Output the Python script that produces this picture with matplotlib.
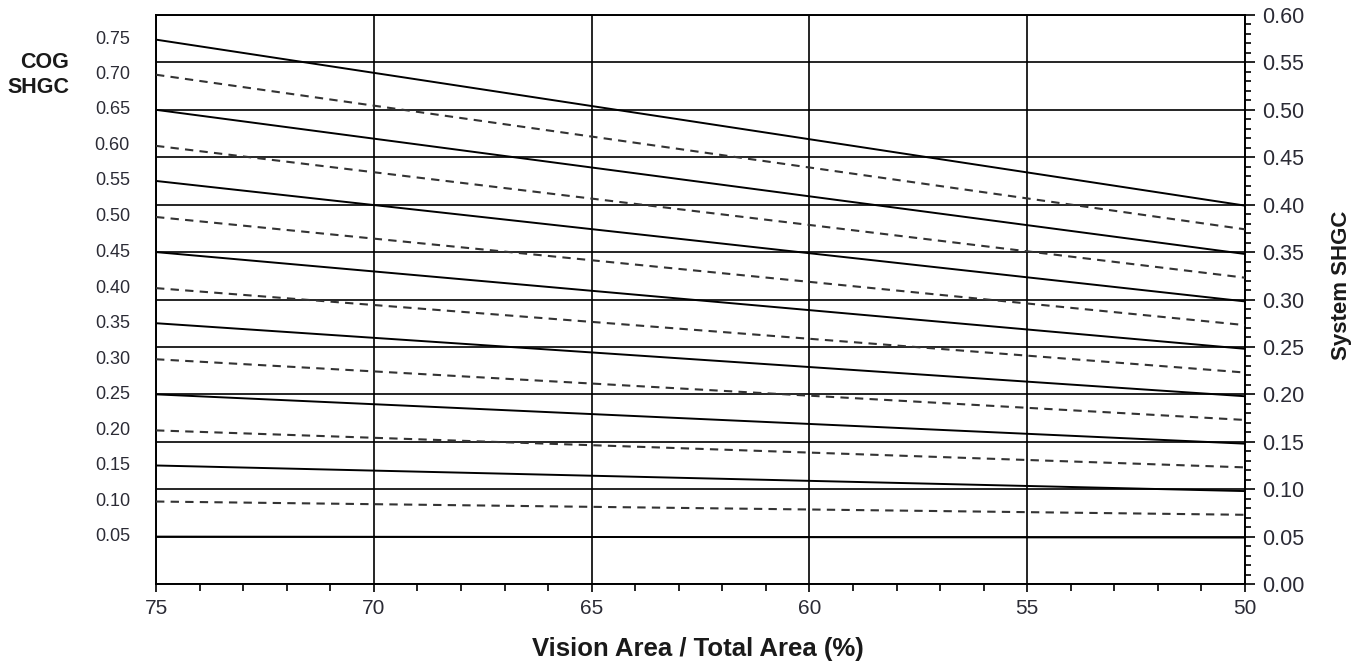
import matplotlib.pyplot as plt
from matplotlib.ticker import MultipleLocator

plt.rcParams['font.family'] = ['Liberation Sans', 'DejaVu Sans']

# --- data ---
cog_shgc = [0.75, 0.70, 0.65, 0.60, 0.55, 0.50, 0.45, 0.40,
            0.35, 0.30, 0.25, 0.20, 0.15, 0.10, 0.05]
# system SHGC at 75 % vision area (left end) and 50 % (right end)
sys_at_75 = [0.574, 0.537, 0.500, 0.462, 0.425, 0.387, 0.350, 0.312,
             0.275, 0.237, 0.200, 0.162, 0.125, 0.087, 0.050]
sys_at_50 = [0.399, 0.374, 0.348, 0.323, 0.298, 0.273, 0.248, 0.223,
             0.198, 0.173, 0.148, 0.123, 0.098, 0.073, 0.049]
vision_pct = [75, 50]
line_style = ['solid', 'dashed'] * 7 + ['solid']

fig = plt.figure(figsize=(13.64, 6.69), dpi=100)
ax = fig.add_axes([0.1144, 0.127, 0.7984, 0.8506])

for cog, y0, y1, ls in zip(cog_shgc, sys_at_75, sys_at_50, line_style):
    if ls == 'solid':
        ax.plot(vision_pct, [y0, y1], color='black', linewidth=1.4, zorder=3)
    else:
        ax.plot(vision_pct, [y0, y1], color='#333333', linewidth=1.5,
                dashes=(4, 3), zorder=3)
    # COG label on the left, level with the line start
    ax.text(-0.024, y0, f'{cog:.2f}', transform=ax.get_yaxis_transform(),
            ha='right', va='center', fontsize=13, color='#2b2b35')

ax.set_xlim(75, 50)
ax.set_ylim(0, 0.60)

ax.xaxis.set_major_locator(MultipleLocator(5))
ax.xaxis.set_minor_locator(MultipleLocator(1))
ax.yaxis.set_major_locator(MultipleLocator(0.05))
ax.yaxis.set_minor_locator(MultipleLocator(0.01))
ax.yaxis.tick_right()
ax.yaxis.set_major_formatter(plt.FormatStrFormatter('%.2f'))

ax.tick_params(axis='x', which='major', direction='out', length=6, width=1.2,
               labelsize=15, pad=5, colors='black', labelcolor='#2b2b35')
ax.tick_params(axis='x', which='minor', direction='out', length=5, width=1.2)
ax.tick_params(axis='y', which='major', direction='out', length=7, width=1.2,
               labelsize=15.5, pad=5, labelcolor='#2b2b35')
ax.tick_params(axis='y', which='minor', direction='out', length=4, width=1.2)

ax.grid(True, which='major', color='black', linewidth=1.2)
for sp in ax.spines.values():
    sp.set_linewidth(1.4)

ax.set_xlabel('Vision Area / Total Area (%)', fontsize=18.5, fontweight='bold',
              color='#1a1a1a', va='center')
ax.xaxis.set_label_coords(0.4972, -0.114)
ax.yaxis.set_label_position('right')
ax.set_ylabel('System SHGC', fontsize=16, fontweight='bold', color='#1a1a1a',
              va='center')
ax.yaxis.set_label_coords(1.089, 0.525)
fig.text(0.0506, 0.888, 'COG\nSHGC', ha='right', va='center', fontsize=15.5,
         fontweight='bold', color='#1a1a1a', linespacing=1.3)

fig.savefig('out.png', dpi=100)
